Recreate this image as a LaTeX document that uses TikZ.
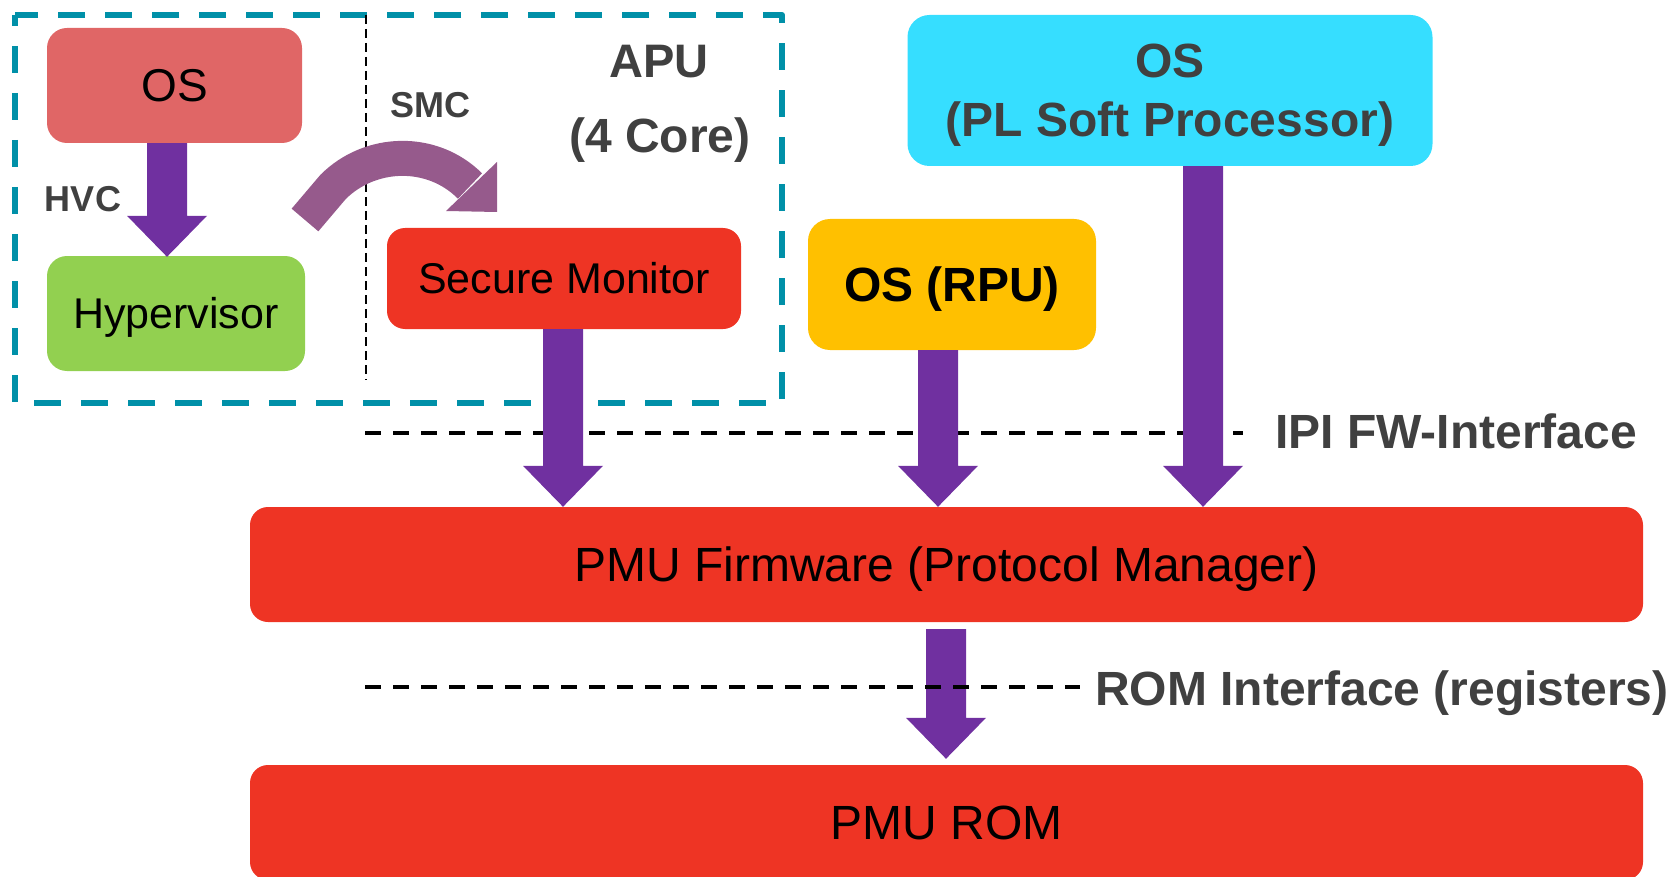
\documentclass[tikz,border=0pt]{standalone}
\usepackage{fontspec}
\setmainfont{Liberation Sans}
\usetikzlibrary{calc}

\definecolor{osred}{HTML}{E06666}
\definecolor{hypgreen}{HTML}{92D050}
\definecolor{smred}{HTML}{EE3424}
\definecolor{rpuyellow}{HTML}{FFC000}
\definecolor{plcyan}{HTML}{36DEFF}
\definecolor{flowpurple}{HTML}{7030A0}
\definecolor{smcpurple}{HTML}{965A8C}
\definecolor{aputeal}{HTML}{0090A8}
\definecolor{labelgray}{HTML}{404040}

\tikzset{
  box/.style={rounded corners=#1, inner sep=0pt, draw=none},
  box/.default=20pt,
  boxtext/.style={font=\fontsize{#1}{#1}\selectfont, text depth=0pt},
  boldboxtext/.style={font=\fontsize{#1}{#1}\selectfont\bfseries, text depth=0pt},
  lbl/.style={font=\fontsize{#1}{#1}\selectfont\bfseries, text=labelgray, inner sep=0pt},
  apuframe/.style={draw=aputeal, line width=6pt, dash pattern=on 27pt off 20pt, dash phase=16pt, line join=round},
  coresplit/.style={draw=black, line width=2.5pt, dash pattern=on 9pt off 5pt},
  ifline/.style={draw=black, line width=4pt, dash pattern=on 16pt off 12pt},
  % block arrow: 40 wide shaft, 80 wide head, 41 long head
  fatarrow/.style={to path={let \p1=(\tikztostart), \p2=(\tikztotarget) in
    (\x1-20pt,\y1) -- (\x1-20pt,\y2+41pt) -- (\x1-40pt,\y2+41pt) -- (\x1,\y2)
    -- (\x1+40pt,\y2+41pt) -- (\x1+20pt,\y2+41pt) -- (\x1+20pt,\y1) -- cycle}},
  flow/.style={fill=flowpurple, fatarrow}
}

\begin{document}
\begin{tikzpicture}[x=1pt,y=-1pt]
\useasboundingbox (0,0) rectangle (1677,877);

% APU cluster frame and the split between the two exception levels
\draw[apuframe] (15,15) rectangle (782,403);
\coordinate (splitTop) at (366,15);
\coordinate (splitBot) at (366,380);
\draw[coresplit] (splitTop) -- (splitBot);

% IPI firmware interface boundary
\coordinate (ipiL) at (365,433);
\coordinate (ipiR) at (1243,433);
\draw[ifline] (ipiL) -- (ipiR);

% Software blocks
\node[box, fill=osred, minimum width=255pt, minimum height=115pt,
      boxtext=46, text height=32.9pt] (os) at (174.5,85.5) {OS};
\node[box, fill=hypgreen, minimum width=258pt, minimum height=115pt,
      boxtext=43, text height=30.8pt] (hyp) at (176,313.5) {Hypervisor};
\node[box=18pt, fill=smred, minimum width=354pt, minimum height=101pt,
      boxtext=43, text height=30.8pt] (sm) at (564,278.5) {Secure Monitor};
\node[box=22pt, fill=rpuyellow, minimum width=288pt, minimum height=131pt,
      boldboxtext=48, text height=34.4pt] (rpu) at (952,284.5) {OS (RPU)};
\node[box=22pt, fill=plcyan, minimum width=525pt, minimum height=151pt] (pl) at (1170,90.5) {};
\node[lbl=48, anchor=base] (plos) at (1170,78) {OS};
\node[lbl=48, anchor=base] (plsub) at (1170,137) {(PL Soft Processor)};
\node[box=18pt, fill=smred, minimum width=1393pt, minimum height=115pt,
      boxtext=48, text height=34.4pt] (pmu) at (946.5,564.5) {PMU Firmware (Protocol Manager)};
\node[box=18pt, fill=smred, minimum width=1393pt, minimum height=115pt,
      boxtext=48, text height=34.4pt] (rom) at (946.5,822.5) {PMU ROM};

% Labels
\node[lbl=36, anchor=base] (hvc) at (83,211.5) {HVC};
\node[lbl=36, anchor=base] (smc) at (430,118) {SMC};
\node[lbl=47, anchor=base] (apu) at (659,78) {APU};
\node[lbl=48, anchor=base] (cores) at (660,153) {(4 Core)};
\node[lbl=48, anchor=base west] (ipi) at (1275,448) {IPI FW-Interface};
\node[lbl=48, anchor=base west] (romif) at (1095,705) {ROM Interface (registers)};

% Arrow columns
\coordinate (hvcx) at (167,0);
\coordinate (smx) at (563,0);
\coordinate (rpux) at (938,0);
\coordinate (plx) at (1203,0);
\coordinate (pmux) at (946,0);

\path[flow] (hvcx |- os.south) to ($(hvcx |- hyp.north)+(0,1)$);
\path[flow] (smx |- sm.south) to (smx |- pmu.north);
\path[flow] (rpux |- rpu.south) to (rpux |- pmu.north);
\path[flow] (plx |- pl.south) to (plx |- pmu.north);
\path[flow] ($(pmux |- pmu.south)+(0,7)$) to ($(pmux |- rom.north)+(0,-6)$);

% Secure monitor call: curved arrow into EL3
\coordinate (smcTail) at (305,220);
\coordinate (smcBend) at (333,187);
\coordinate (smcEnd) at (470,186);
\draw[smcpurple, line width=35pt] (smcTail) -- (smcBend)
  .. controls (370,150) and (432,148) .. (smcEnd);
\coordinate (smcHeadA) at (497,162);
\coordinate (smcTip) at (497,212);
\coordinate (smcHeadB) at (446,211);
\fill[smcpurple] (smcHeadA) -- (smcTip) -- (smcHeadB) -- cycle;

% ROM register interface boundary
\coordinate (romL) at (365,687);
\coordinate (romR) at (1080,687);
\draw[ifline] (romL) -- (romR);
\end{tikzpicture}
\end{document}
